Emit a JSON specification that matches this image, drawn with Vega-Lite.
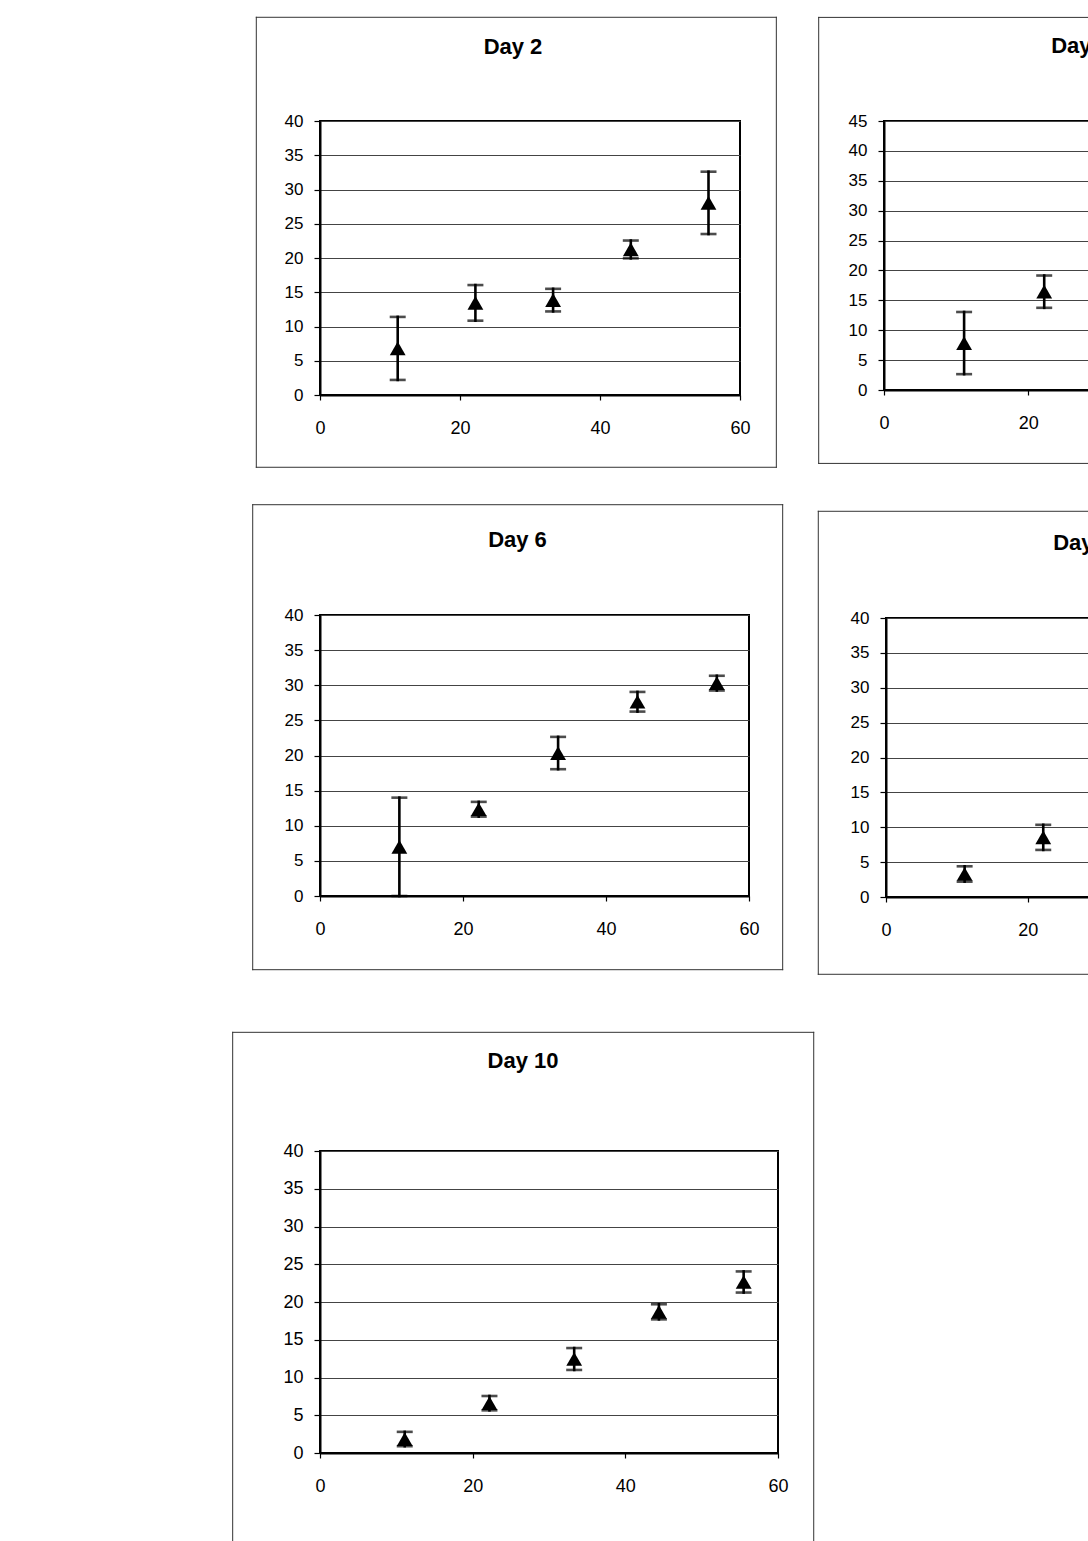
{
  "$schema": "https://vega.github.io/schema/vega-lite/v6.json",
  "background": "white",
  "padding": {"left": 4, "top": 4, "right": 0, "bottom": 0},
  "config": {
    "font": "Liberation Sans",
    "view": {"stroke": "black", "strokeWidth": 2, "fill": null},
    "axis": {"labelFont": "Liberation Sans", "labelColor": "black", "tickColor": "black", "domainColor": "black", "domainWidth": 2, "tickWidth": 1.2, "title": null, "labelFlush": false, "labelOverlap": false},
    "title": {"font": "Liberation Sans", "fontWeight": "bold", "fontSize": 22, "color": "black", "frame": "group", "anchor": "middle", "baseline": "alphabetic"},
    "rule": {"color": "#333", "strokeWidth": 1, "strokeCap": "square", "clip": false}
  },
  "datasets": {
    "day2": [
      {"dose": 11.1, "mean": 6.8, "err": 4.6},
      {"dose": 22.2, "mean": 13.45, "err": 2.6},
      {"dose": 33.3, "mean": 13.85, "err": 1.65},
      {"dose": 44.4, "mean": 21.25, "err": 1.3},
      {"dose": 55.5, "mean": 28.05, "err": 4.55}
    ],
    "day4": [
      {"dose": 11.1, "mean": 7.85, "err": 5.2},
      {"dose": 22.2, "mean": 16.45, "err": 2.7},
      {"dose": 33.3, "mean": 25.35, "err": 4.7},
      {"dose": 44.4, "mean": 33.1, "err": 4.5},
      {"dose": 55.5, "mean": 37.2, "err": 4.05}
    ],
    "day6": [
      {"dose": 11.1, "mean": 7.0, "err": 7.0},
      {"dose": 22.2, "mean": 12.35, "err": 1.05},
      {"dose": 33.3, "mean": 20.35, "err": 2.3},
      {"dose": 44.4, "mean": 27.65, "err": 1.4},
      {"dose": 55.5, "mean": 30.3, "err": 1.05}
    ],
    "day8": [
      {"dose": 11.1, "mean": 3.3, "err": 1.1},
      {"dose": 22.2, "mean": 8.55, "err": 1.8},
      {"dose": 33.3, "mean": 14.45, "err": 1.2},
      {"dose": 44.4, "mean": 22.25, "err": 2.45},
      {"dose": 55.5, "mean": 23.8, "err": 1.5}
    ],
    "day10": [
      {"dose": 11.1, "mean": 1.85, "err": 0.95},
      {"dose": 22.2, "mean": 6.6, "err": 0.95},
      {"dose": 33.3, "mean": 12.45, "err": 1.45},
      {"dose": 44.4, "mean": 18.7, "err": 1.0},
      {"dose": 55.5, "mean": 22.65, "err": 1.4}
    ]
  },
  "columns": 2,
  "align": "none",
  "bounds": "full",
  "spacing": 0,
  "concat": [
    {
      "width": 420, "height": 274,
      "title": {"text": "Day 2", "offset": -42.6, "dx": -17},
      "data": {"name": "day2"},
      "encoding": {
        "x": {"field": "dose", "type": "quantitative", "scale": {"domain": [0, 60], "nice": false, "zero": false}, "axis": {"title": null, "values": [0, 20, 40, 60], "grid": false, "tickSize": 5, "labelFontSize": 18, "labelPadding": 19}},
        "y": {"field": "mean", "type": "quantitative", "scale": {"domain": [0, 40], "nice": false, "zero": false}, "axis": {"title": null, "values": [0, 5, 10, 15, 20, 25, 30, 35, 40], "grid": true, "gridColor": "#444", "gridWidth": 1, "tickSize": 6, "labelFontSize": 17, "labelPadding": 11}}
      },
      "layer": [
        {"transform": [{"filter": {"field": "dose", "equal": 11.1}}], "mark": {"type": "rule", "opacity": 0}, "encoding": {"x": {"datum": -9.67, "type": "quantitative"}, "x2": {"datum": 70.19}, "y": {"datum": -15.52, "type": "quantitative"}, "y2": {"datum": 55.14}}},
        {"transform": [{"filter": {"field": "dose", "equal": 11.1}}], "mark": {"type": "rule"}, "encoding": {"x": {"datum": -9.1, "type": "quantitative"}, "x2": {"datum": 65.19}, "y": {"datum": 55.14, "type": "quantitative"}}},
        {"transform": [{"filter": {"field": "dose", "equal": 11.1}}], "mark": {"type": "rule"}, "encoding": {"x": {"datum": -9.1, "type": "quantitative"}, "x2": {"datum": 65.19}, "y": {"datum": -10.55, "type": "quantitative"}}},
        {"transform": [{"filter": {"field": "dose", "equal": 11.1}}], "mark": {"type": "rule"}, "encoding": {"x": {"datum": -9.1, "type": "quantitative"}, "y": {"datum": -10.55, "type": "quantitative"}, "y2": {"datum": 55.14}}},
        {"transform": [{"filter": {"field": "dose", "equal": 11.1}}], "mark": {"type": "rule"}, "encoding": {"x": {"datum": 65.19, "type": "quantitative"}, "y": {"datum": -10.55, "type": "quantitative"}, "y2": {"datum": 55.14}}},
        {"mark": {"type": "errorbar", "ticks": true, "size": 16, "thickness": 2.6, "color": "black"}, "encoding": {"yError": {"field": "err"}}},
        {"mark": {"type": "point", "shape": "triangle-up", "filled": true, "size": 250, "color": "black", "opacity": 1}}
      ]
    },
    {
      "width": 433, "height": 269,
      "title": {"text": "Day 4", "offset": -52.3, "dx": -20},
      "data": {"name": "day4"},
      "encoding": {
        "x": {"field": "dose", "type": "quantitative", "scale": {"domain": [0, 60], "nice": false, "zero": false}, "axis": {"title": null, "values": [0, 20, 40, 60], "grid": false, "tickSize": 5, "labelFontSize": 18, "labelPadding": 19}},
        "y": {"field": "mean", "type": "quantitative", "scale": {"domain": [0, 45], "nice": false, "zero": false}, "axis": {"title": null, "values": [0, 5, 10, 15, 20, 25, 30, 35, 40, 45], "grid": true, "gridColor": "#444", "gridWidth": 1, "tickSize": 6, "labelFontSize": 17, "labelPadding": 11}}
      },
      "layer": [
        {"transform": [{"filter": {"field": "dose", "equal": 11.1}}], "mark": {"type": "rule", "opacity": 0}, "encoding": {"x": {"datum": -9.05, "type": "quantitative"}, "x2": {"datum": 63.7}, "y": {"datum": -16.68, "type": "quantitative"}, "y2": {"datum": 64.29}}},
        {"transform": [{"filter": {"field": "dose", "equal": 11.1}}], "mark": {"type": "rule"}, "encoding": {"x": {"datum": -9.05, "type": "quantitative"}, "x2": {"datum": 63.28}, "y": {"datum": 62.33, "type": "quantitative"}}},
        {"transform": [{"filter": {"field": "dose", "equal": 11.1}}], "mark": {"type": "rule"}, "encoding": {"x": {"datum": -9.05, "type": "quantitative"}, "x2": {"datum": 63.28}, "y": {"datum": -12.28, "type": "quantitative"}}},
        {"transform": [{"filter": {"field": "dose", "equal": 11.1}}], "mark": {"type": "rule"}, "encoding": {"x": {"datum": -9.05, "type": "quantitative"}, "y": {"datum": -12.28, "type": "quantitative"}, "y2": {"datum": 62.33}}},
        {"transform": [{"filter": {"field": "dose", "equal": 11.1}}], "mark": {"type": "rule"}, "encoding": {"x": {"datum": 63.28, "type": "quantitative"}, "y": {"datum": -12.28, "type": "quantitative"}, "y2": {"datum": 62.33}}},
        {"mark": {"type": "errorbar", "ticks": true, "size": 16, "thickness": 2.6, "color": "black"}, "encoding": {"yError": {"field": "err"}}},
        {"mark": {"type": "point", "shape": "triangle-up", "filled": true, "size": 250, "color": "black", "opacity": 1}}
      ]
    },
    {
      "width": 429, "height": 281,
      "title": {"text": "Day 6", "offset": -47.8, "dx": -17},
      "data": {"name": "day6"},
      "encoding": {
        "x": {"field": "dose", "type": "quantitative", "scale": {"domain": [0, 60], "nice": false, "zero": false}, "axis": {"title": null, "values": [0, 20, 40, 60], "grid": false, "tickSize": 5, "labelFontSize": 18, "labelPadding": 19}},
        "y": {"field": "mean", "type": "quantitative", "scale": {"domain": [0, 40], "nice": false, "zero": false}, "axis": {"title": null, "values": [0, 5, 10, 15, 20, 25, 30, 35, 40], "grid": true, "gridColor": "#444", "gridWidth": 1, "tickSize": 6, "labelFontSize": 17, "labelPadding": 11}}
      },
      "layer": [
        {"transform": [{"filter": {"field": "dose", "equal": 11.1}}], "mark": {"type": "rule", "opacity": 0}, "encoding": {"x": {"datum": -9.55, "type": "quantitative"}, "x2": {"datum": 68.21}, "y": {"datum": -18.89, "type": "quantitative"}, "y2": {"datum": 55.7}}},
        {"transform": [{"filter": {"field": "dose", "equal": 11.1}}], "mark": {"type": "rule"}, "encoding": {"x": {"datum": -9.41, "type": "quantitative"}, "x2": {"datum": 64.71}, "y": {"datum": 55.7, "type": "quantitative"}}},
        {"transform": [{"filter": {"field": "dose", "equal": 11.1}}], "mark": {"type": "rule"}, "encoding": {"x": {"datum": -9.41, "type": "quantitative"}, "x2": {"datum": 64.71}, "y": {"datum": -10.49, "type": "quantitative"}}},
        {"transform": [{"filter": {"field": "dose", "equal": 11.1}}], "mark": {"type": "rule"}, "encoding": {"x": {"datum": -9.41, "type": "quantitative"}, "y": {"datum": -10.49, "type": "quantitative"}, "y2": {"datum": 55.7}}},
        {"transform": [{"filter": {"field": "dose", "equal": 11.1}}], "mark": {"type": "rule"}, "encoding": {"x": {"datum": 64.71, "type": "quantitative"}, "y": {"datum": -10.49, "type": "quantitative"}, "y2": {"datum": 55.7}}},
        {"mark": {"type": "errorbar", "ticks": true, "size": 16, "thickness": 2.6, "color": "black"}, "encoding": {"yError": {"field": "err"}}},
        {"mark": {"type": "point", "shape": "triangle-up", "filled": true, "size": 250, "color": "black", "opacity": 1}}
      ]
    },
    {
      "width": 425, "height": 279,
      "title": {"text": "Day 8", "offset": -50.3, "dx": -16},
      "data": {"name": "day8"},
      "encoding": {
        "x": {"field": "dose", "type": "quantitative", "scale": {"domain": [0, 60], "nice": false, "zero": false}, "axis": {"title": null, "values": [0, 20, 40, 60], "grid": false, "tickSize": 5, "labelFontSize": 18, "labelPadding": 19}},
        "y": {"field": "mean", "type": "quantitative", "scale": {"domain": [0, 40], "nice": false, "zero": false}, "axis": {"title": null, "values": [0, 5, 10, 15, 20, 25, 30, 35, 40], "grid": true, "gridColor": "#444", "gridWidth": 1, "tickSize": 6, "labelFontSize": 17, "labelPadding": 11}}
      },
      "layer": [
        {"transform": [{"filter": {"field": "dose", "equal": 11.1}}], "mark": {"type": "rule", "opacity": 0}, "encoding": {"x": {"datum": -9.56, "type": "quantitative"}, "x2": {"datum": 64.96}, "y": {"datum": -18.82, "type": "quantitative"}, "y2": {"datum": 56.3}}},
        {"transform": [{"filter": {"field": "dose", "equal": 11.1}}], "mark": {"type": "rule"}, "encoding": {"x": {"datum": -9.56, "type": "quantitative"}, "x2": {"datum": 64.91}, "y": {"datum": 55.3, "type": "quantitative"}}},
        {"transform": [{"filter": {"field": "dose", "equal": 11.1}}], "mark": {"type": "rule"}, "encoding": {"x": {"datum": -9.56, "type": "quantitative"}, "x2": {"datum": 64.91}, "y": {"datum": -11.08, "type": "quantitative"}}},
        {"transform": [{"filter": {"field": "dose", "equal": 11.1}}], "mark": {"type": "rule"}, "encoding": {"x": {"datum": -9.56, "type": "quantitative"}, "y": {"datum": -11.08, "type": "quantitative"}, "y2": {"datum": 55.3}}},
        {"transform": [{"filter": {"field": "dose", "equal": 11.1}}], "mark": {"type": "rule"}, "encoding": {"x": {"datum": 64.91, "type": "quantitative"}, "y": {"datum": -11.08, "type": "quantitative"}, "y2": {"datum": 55.3}}},
        {"mark": {"type": "errorbar", "ticks": true, "size": 16, "thickness": 2.6, "color": "black"}, "encoding": {"yError": {"field": "err"}}},
        {"mark": {"type": "point", "shape": "triangle-up", "filled": true, "size": 250, "color": "black", "opacity": 1}}
      ]
    },
    {
      "width": 458, "height": 302,
      "title": {"text": "Day 10", "offset": -41.3, "dx": -26},
      "data": {"name": "day10"},
      "encoding": {
        "x": {"field": "dose", "type": "quantitative", "scale": {"domain": [0, 60], "nice": false, "zero": false}, "axis": {"title": null, "values": [0, 20, 40, 60], "grid": false, "tickSize": 5, "labelFontSize": 18, "labelPadding": 19}},
        "y": {"field": "mean", "type": "quantitative", "scale": {"domain": [0, 40], "nice": false, "zero": false}, "axis": {"title": null, "values": [0, 5, 10, 15, 20, 25, 30, 35, 40], "grid": true, "gridColor": "#444", "gridWidth": 1, "tickSize": 6, "labelFontSize": 18, "labelPadding": 11}}
      },
      "layer": [
        {"transform": [{"filter": {"field": "dose", "equal": 11.1}}], "mark": {"type": "rule", "opacity": 0}, "encoding": {"x": {"datum": -41.18, "type": "quantitative"}, "x2": {"datum": 64.68}, "y": {"datum": -14.34, "type": "quantitative"}, "y2": {"datum": 55.72}}},
        {"transform": [{"filter": {"field": "dose", "equal": 11.1}}], "mark": {"type": "rule"}, "encoding": {"x": {"datum": -11.44, "type": "quantitative"}, "x2": {"datum": 64.68}, "y": {"datum": 55.72, "type": "quantitative"}}},
        {"transform": [{"filter": {"field": "dose", "equal": 11.1}}], "mark": {"type": "rule"}, "encoding": {"x": {"datum": -11.44, "type": "quantitative"}, "x2": {"datum": 64.68}, "y": {"datum": -14.2, "type": "quantitative"}}},
        {"transform": [{"filter": {"field": "dose", "equal": 11.1}}], "mark": {"type": "rule"}, "encoding": {"x": {"datum": -11.44, "type": "quantitative"}, "y": {"datum": -14.2, "type": "quantitative"}, "y2": {"datum": 55.72}}},
        {"transform": [{"filter": {"field": "dose", "equal": 11.1}}], "mark": {"type": "rule"}, "encoding": {"x": {"datum": 64.68, "type": "quantitative"}, "y": {"datum": -14.2, "type": "quantitative"}, "y2": {"datum": 55.72}}},
        {"mark": {"type": "errorbar", "ticks": true, "size": 16, "thickness": 2.6, "color": "black"}, "encoding": {"yError": {"field": "err"}}},
        {"mark": {"type": "point", "shape": "triangle-up", "filled": true, "size": 250, "color": "black", "opacity": 1}}
      ]
    }
  ]
}
